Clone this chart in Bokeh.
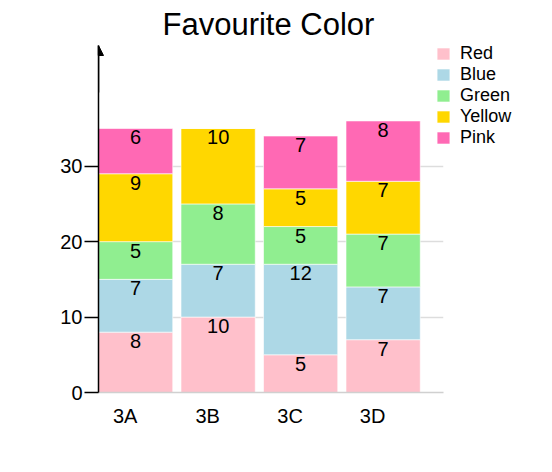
from bokeh.plotting import figure
from bokeh.models import (ColumnDataSource, Range1d, Legend, LegendItem,
                          FixedTicker, Arrow, NormalHead)
from bokeh.transform import dodge
from bokeh.core.properties import value
from bokeh.embed import file_html
from bokeh.resources import INLINE
import numpy as np

# ---- data ----
classes = ["3A", "3B", "3C", "3D"]
color_names = ["Red", "Blue", "Green", "Yellow", "Pink"]
red = [8, 10, 5, 7]
blue = [7, 7, 12, 7]
green = [5, 8, 5, 7]
yellow = [9, 10, 5, 7]
pink = [6, 0, 7, 8]
y_ticks = [0, 10, 20, 30]

fills = ["#FFC0CB", "#ADD8E6", "#90EE90", "#FFD700", "#FF69B4"]
FONT = "Liberation Sans"
BAR_SHIFT = 0.127   # bars sit a little right of their tick label

series = [red, blue, green, yellow, pink]
idx = list(range(len(classes)))
data = {"idx": idx}
for n, s in zip(color_names, series):
    data[n] = s
src = ColumnDataSource(data)

vals = np.array(series)
tops = np.cumsum(vals, axis=0)
lx, ly, lt = [], [], []
for i in range(vals.shape[0]):
    for j in idx:
        if vals[i, j] > 0:
            lx.append(j)
            ly.append(float(tops[i, j]))
            lt.append(str(vals[i, j]))
lsrc = ColumnDataSource(dict(idx=lx, top=ly, text=lt))

x_start = BAR_SHIFT - 0.45
p = figure(x_range=Range1d(x_start, x_start + 345 / 82.5), y_range=Range1d(0, 46),
           frame_width=345, frame_height=347,
           min_border_left=98, min_border_right=93, min_border_top=44, min_border_bottom=62,
           output_backend="svg", toolbar_location=None)

p.title.text = "Favourite Color"
p.title.text_font = FONT
p.title.text_font_size = "31px"
p.title.text_font_style = "normal"
p.title.text_color = "black"
p.title.align = "left"
p.title.offset = 64
p.title.standoff = 8

xpos = dodge("idx", BAR_SHIFT, range=p.x_range)
rs = p.vbar_stack(color_names, x=xpos, width=0.9, source=src,
                  fill_color=fills, line_color="white", line_alpha=0.6, line_width=1)

p.text(x=dodge("idx", BAR_SHIFT, range=p.x_range), y="top", text="text", source=lsrc,
       text_align="center", text_baseline="top", text_font=value(FONT),
       text_font_size="20px", text_color="black", y_offset=2)

items = [LegendItem(label=n, renderers=[r]) for n, r in zip(color_names, rs)]
legend = Legend(items=items, location=(-8, 244), padding=0, margin=0, spacing=0,
                glyph_width=16, glyph_height=15, label_height=21, label_standoff=9,
                label_text_font=FONT, label_text_font_size="18px", label_text_color="black",
                border_line_alpha=0, background_fill_alpha=0)
p.add_layout(legend, "right")

p.add_layout(Arrow(end=NormalHead(size=10, fill_color="black", line_color="black"),
                   x_start=0, y_start=300, x_end=0, y_end=347,
                   start_units="screen", end_units="screen",
                   line_color="black", line_width=1.5))

p.yaxis.ticker = FixedTicker(ticks=y_ticks)
p.yaxis.axis_line_color = "black"
p.yaxis.axis_line_width = 1.5
p.yaxis.major_tick_out = 14
p.yaxis.major_tick_in = 0
p.yaxis.major_tick_line_color = "black"
p.yaxis.major_tick_line_width = 1.5
p.yaxis.minor_tick_line_color = None
p.yaxis.major_label_text_font = FONT
p.yaxis.major_label_text_font_size = "20px"
p.yaxis.major_label_text_color = "black"
p.yaxis.major_label_standoff = 2

p.xaxis.ticker = FixedTicker(ticks=idx)
p.xaxis.major_label_overrides = {i: c for i, c in zip(idx, classes)}
p.xaxis.axis_line_color = "#d0d0d0"
p.xaxis.axis_line_width = 1.5
p.xaxis.major_tick_line_color = None
p.xaxis.minor_tick_line_color = None
p.xaxis.major_label_text_font = FONT
p.xaxis.major_label_text_font_size = "20px"
p.xaxis.major_label_text_color = "black"
p.xaxis.major_label_standoff = 6

p.xgrid.grid_line_color = None
p.ygrid.grid_line_color = "#dddddd"
p.ygrid.grid_line_width = 1.5
p.outline_line_color = None

open("out.html", "w").write(file_html(p, INLINE))
